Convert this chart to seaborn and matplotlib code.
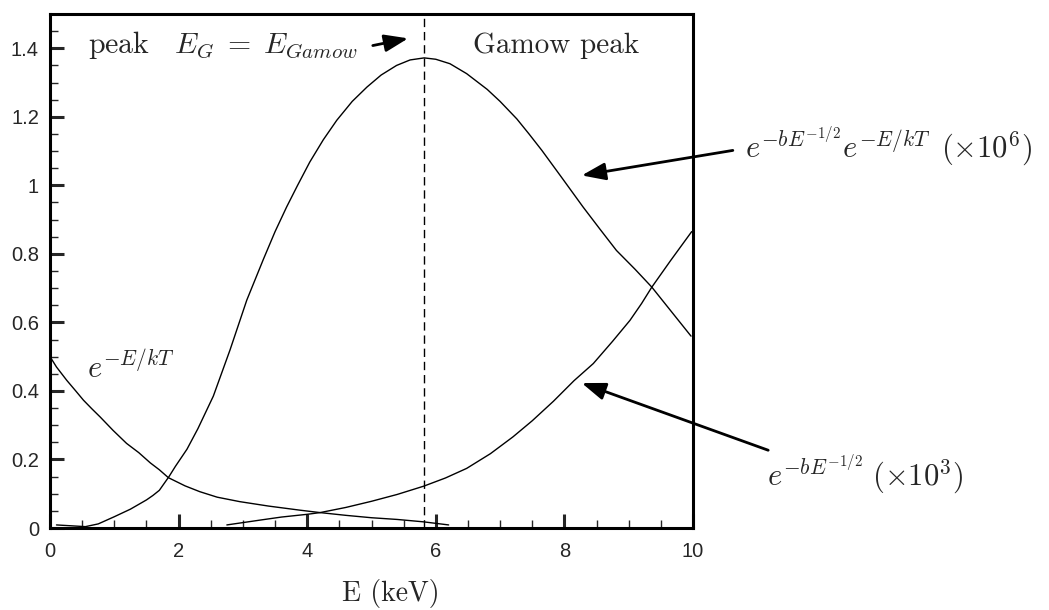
import matplotlib
matplotlib.use("Agg")
import matplotlib.pyplot as plt
import seaborn as sns
import numpy as np
import pandas as pd

# ---- data ----
gamow_E = [0.1, 0.55, 0.75, 1.0, 1.25, 1.5, 1.6, 1.7, 1.85, 1.95, 2.13, 2.3, 2.54, 2.8, 3.06,
           3.32, 3.5, 3.68, 3.85, 4.04, 4.25, 4.46, 4.7, 4.93, 5.15, 5.39, 5.6, 5.82, 6.0, 6.22,
           6.48, 6.8, 7.0, 7.26, 7.45, 7.65, 7.95, 8.29, 8.55, 8.81, 9.1, 9.36, 9.65, 9.97]
gamow_v = [0.009, 0.004, 0.012, 0.033, 0.055, 0.082, 0.095, 0.11, 0.15, 0.18, 0.23, 0.29,
           0.385, 0.52, 0.665, 0.785, 0.865, 0.937, 1.0, 1.068, 1.133, 1.19, 1.245, 1.287,
           1.322, 1.35, 1.366, 1.372, 1.368, 1.355, 1.326, 1.28, 1.245, 1.194, 1.15, 1.102,
           1.025, 0.937, 0.873, 0.81, 0.755, 0.703, 0.635, 0.56]

thermal_E = [0.0, 0.1, 0.26, 0.4, 0.52, 0.65, 0.78, 0.98, 1.19, 1.38, 1.56, 1.7, 1.84, 2.1,
             2.33, 2.6, 2.95, 3.4, 3.89, 4.2, 4.6, 5.0, 5.4, 5.81, 6.2]
thermal_v = [0.50, 0.47, 0.431, 0.40, 0.373, 0.348, 0.324, 0.285, 0.247, 0.22, 0.19, 0.17,
             0.147, 0.123, 0.106, 0.09, 0.077, 0.064, 0.052, 0.045, 0.037, 0.03, 0.025,
             0.018, 0.009]

tunnel_E = [2.75, 3.3, 3.6, 4.0, 4.2, 4.6, 5.0, 5.4, 5.81, 6.15, 6.48, 6.85, 7.2, 7.5, 7.83,
            8.15, 8.45, 8.75, 9.02, 9.2, 9.36, 9.65, 9.98]
tunnel_v = [0.009, 0.024, 0.032, 0.04, 0.045, 0.06, 0.078, 0.098, 0.122, 0.146, 0.174, 0.217,
            0.266, 0.313, 0.37, 0.43, 0.48, 0.545, 0.606, 0.655, 0.703, 0.78, 0.865]

gamow_peak_E = 5.82

x_ticks = [0, 2, 4, 6, 8, 10]
x_tick_labels = ["0", "2", "4", "6", "8", "10"]
y_ticks = [0, 0.2, 0.4, 0.6, 0.8, 1.0, 1.2, 1.4]
y_tick_labels = ["0", "0.2", "0.4", "0.6", "0.8", "1", "1.2", "1.4"]

sns.set_style("ticks")
plt.rcParams["font.family"] = ["Liberation Sans", "DejaVu Sans"]
plt.rcParams["mathtext.fontset"] = "cm"

fig = plt.figure(figsize=(10.49, 6.10), dpi=100)
ax = fig.add_axes([0.0477, 0.1344, 0.6129, 0.8426])

df_g = pd.DataFrame({"E": gamow_E, "v": gamow_v})
df_t = pd.DataFrame({"E": thermal_E, "v": thermal_v})
df_u = pd.DataFrame({"E": tunnel_E, "v": tunnel_v})
for d in (df_g, df_t, df_u):
    sns.lineplot(data=d, x="E", y="v", ax=ax, color="black", lw=1.0, sort=False)

ax.axvline(gamow_peak_E, color="black", lw=1.0, dashes=(6, 3.5))

ax.set_xlim(0, 10)
ax.set_ylim(0, 1.5)
ax.set_xticks(x_ticks)
ax.set_xticklabels(x_tick_labels)
ax.set_yticks(y_ticks)
ax.set_yticklabels(y_tick_labels)
ax.set_xticks(np.arange(0, 10.01, 0.5), minor=True)
ax.set_yticks(np.arange(0, 1.451, 0.05), minor=True)
ax.tick_params(which="major", direction="in", length=10, width=2.2, labelsize=14.5, pad=8,
               top=False, right=False)
ax.tick_params(which="minor", direction="in", length=5.5, width=1.0, top=False, right=False)
ax.tick_params(axis="x", which="major", pad=10)
for s in ax.spines.values():
    s.set_visible(True)
    s.set_linewidth(2.2)
    s.set_color("black")

ax.set_ylabel("")
ax.set_xlabel("E (keV)", fontfamily="cmr10", fontsize=20)
ax.xaxis.set_label_coords(0.53, -0.10)

# texts
ax.text(0.59, 1.385, r"$\mathrm{peak}\quad E_G\;=\;E_{Gamow}$", fontsize=21.5,
        ha="left", va="baseline")
ax.text(6.58, 1.385, "Gamow peak", fontfamily="cmr10", fontsize=21,
        ha="left", va="baseline")
ax.text(0.575, 0.437, r"$e^{-E/kT}$", fontsize=22, ha="left", va="baseline")
ax.text(10.81, 1.082, r"$e^{-bE^{-1/2}}e^{-E/kT}\ \,(\times10^6)$", fontsize=22,
        ha="left", va="baseline", clip_on=False)
ax.text(11.15, 0.125, r"$e^{-bE^{-1/2}}\;(\times10^3)$", fontsize=22,
        ha="left", va="baseline", clip_on=False)

arrow_kw = dict(arrowstyle="-|>,head_length=0.6,head_width=0.22", mutation_scale=24,
                lw=2.0, color="black", shrinkA=0, shrinkB=0)
ax.annotate("", xy=(5.57, 1.429), xytext=(5.02, 1.408), arrowprops=arrow_kw,
            annotation_clip=False)
ax.annotate("", xy=(8.27, 1.029), xytext=(10.62, 1.102), arrowprops=arrow_kw,
            annotation_clip=False)
ax.annotate("", xy=(8.27, 0.423), xytext=(11.17, 0.227), arrowprops=arrow_kw,
            annotation_clip=False)

fig.savefig("out.png", dpi=100)
